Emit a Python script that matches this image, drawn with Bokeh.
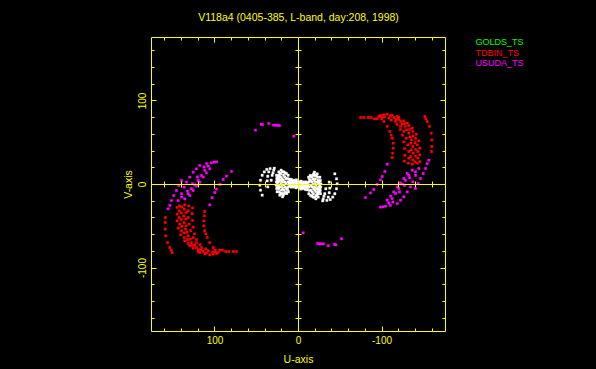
import math
from bokeh.plotting import figure
from bokeh.models import Range1d, LinearAxis, SingleIntervalTicker, ColumnDataSource
from bokeh.core.properties import value
from bokeh.embed import file_html
from bokeh.resources import INLINE

# ---------------- data ----------------
title_text = "V118a4 (0405-385, L-band, day:208, 1998)"
station_names = ["GOLDS_TS", "TDBIN_TS", "USUDA_TS"]
station_colors = ["#00ff00", "#ff0000", "#ff00ff"]
point_colors = ["#ffffff", "#ff0000", "#ff00ff"]
x_label = "U-axis"
y_label = "V-axis"
axis_limit = 176
tick_values = [100, 0, -100]
tick_labels = ["100", "0", "-100"]

# One half of each station's uv samples;
# the Hermitian conjugates (-u, -v) are added below.
golds_u = [38, 41, 43.5, 45.5, 46.3, 45.5, 43.5,
           34, 35.6, 36.8, 37.5, 36.8,
           29.6, 31.5, 32.7, 30.5, 29.0,
           26.3, 26.0, 26.5, 26.8, 26.1, 25.6,
           25.0, 25.2, 25.3, 24.9,
           23.6, 23.4, 23.9, 24.2, 24.0, 23.5, 22.9, 22.4,
           22.2, 22.6, 22.8, 22.0, 21.5,
           20.8, 21.2, 21.5, 21.3, 21.0, 20.6, 20.2, 19.8, 19.1,
           19.2, 19.6, 19.4, 18.8, 18.2,
           17.6, 17.9, 18.2, 18.0, 17.5, 17.0,
           16.0, 16.3, 16.5, 16.0, 15.5,
           14.4, 14.8, 15.1, 14.6, 14.0,
           12.4, 12.8, 12.6, 12.1, 13.2, 13.0,
           10.0, 8.0, 6.0, 4.0, 2.0, 10.0, 7.0, 4.0, 1.0, 9.0, 6.0, 3.0, 0.5, 11.0, 8.5, 5.5, 2.5,
           11.5, 9.0, 6.5, 3.5, 1.5, 10.5, 7.5, 5.0, 2.0]
golds_v = [18, 15, 11.1, 5.1, -0.8, -6.8, -12.8,
           19, 15.1, 9.9, 4.3, -2.9,
           17.1, 11.1, 5.1, 14.0, 19.5,
           11.1, 7.1, 3.2, -0.8, -4.8, -8.7,
           9.0, 5.0, 1.0, -3.0,
           15.1, 11.1, 7.1, 3.2, -0.8, -4.8, -8.7, -12.7,
           13.0, 9.0, 5.0, -2.8, -10.8,
           17.1, 13.1, 9.1, 5.1, 1.2, -2.8, -6.8, -10.8, -14.7,
           15.0, 7.0, 3.0, -4.8, -12.7,
           15.1, 11.1, 5.2, -0.8, -6.8, -10.8,
           14.0, 9.0, 3.0, -3.0, -9.0,
           13.1, 7.1, 1.2, -4.8, -10.8,
           11.1, 3.2, -2.8, -8.7, 7.0, -6.0,
           4.0, 5.0, 3.0, 4.0, 3.0, 0.0, 1.0, -1.0, 0.0, -3.0, -3.0, -4.0, -3.0, 6.5, 6.0, 5.0, 5.5,
           2.0, 2.0, 1.5, 1.5, 1.5, -2.0, -2.0, -1.5, -1.5]

tdbin_u = [-74.3, -78.2, -83.5, -87.1, -91.0, -94.2,
           -96.2, -99.5, -102.2, -106.2, -109.3, -111.0, -112.2, -113.4, -113.4, -112.6, -112.2,
           -100.0, -111.0, -118.0, -122.0, -124.5, -126.0, -127.0, -127.3, -126.8,
           -98.2, -103.0, -108.1, -116.2, -122.2, -126.1, -129.0, -130.9, -132.1, -132.1, -131.4,
           -102.2, -114.1, -122.2, -128.1, -132.1, -135.3, -136.9, -137.4, -136.9, -136.2,
           -110.0, -120.0, -127.0, -133.0, -137.0, -139.5, -140.3, -140.2, -139.5,
           -106.2, -112.0, -118.2, -126.1, -132.1, -136.9, -140.1, -142.2, -142.9, -142.9, -142.2,
           -120.1, -130.2, -136.2, -141.0, -144.1, -145.3, -145.3, -145.3,
           -117.0, -124.0, -129.5, -133.5, -134.6, -134.8, -134.3,
           -151.3, -152.5, -154.1, -156.9, -158.9, -159.6, -159.6, -159.3]
tdbin_v = [80.2, 80.2, 80.2, 80.2, 78.6, 78.6,
           81.4, 78.5, 75.4, 69.5, 63.5, 59.0, 55.4, 49.5, 43.5, 37.5, 32.3,
           80.5, 77.0, 72.0, 66.0, 59.0, 51.0, 43.0, 35.0, 28.0,
           82.6, 81.0, 79.4, 75.4, 69.5, 63.5, 55.4, 47.4, 39.5, 31.5, 25.5,
           83.4, 80.2, 75.4, 69.5, 61.4, 53.4, 45.5, 37.5, 29.5, 24.3,
           82.0, 78.0, 73.0, 66.0, 58.0, 50.0, 42.0, 34.0, 27.0,
           84.2, 83.0, 81.4, 76.2, 70.7, 63.5, 55.4, 47.4, 39.5, 31.5, 25.5,
           80.2, 73.4, 67.4, 60.2, 52.2, 43.5, 35.4, 27.5,
           78.0, 72.5, 65.5, 57.0, 49.5, 41.5, 33.5,
           81.4, 78.5, 75.4, 69.5, 61.4, 53.4, 45.5, 39.5]

usuda_u = [-156.1, -154.1, -152.1, -149.3, -146.1, -143.3, -140.1,
           -144.1, -140.1, -136.9, -134.1, -130.2, -126.1, -122.2, -118.2,
           -136.2, -132.1, -128.1, -124.2, -120.1, -116.2, -112.2, -108.1, -104.2,
           -130.2, -126.1, -122.2, -118.2, -114.1, -110.2, -106.2, -101.0,
           -140.0, -133.0, -127.0, -121.0, -113.0, -110.0, -98.0,
           -106.2, -103.4, -100.2, -98.2, -94.0, -90.2, -86.2, -80.2,
           44.7, 43.1, 35.6, 29.9, 27.5, 25.1, 22.8, 51.5, 5.6]
usuda_v = [29.1, 25.1, 19.2, 13.2, 7.2, 1.2, -4.8,
           19.2, 11.1, 3.1, -2.9, -8.9, -14.8, -18.8, -22.8,
           17.1, 11.1, 5.1, 0.4, -4.8, -10.8, -16.8, -22.0, -26.0,
           13.2, 7.2, 1.9, -2.9, -8.9, -14.0, -18.8, -26.8,
           15.0, 8.0, -1.0, -9.0, -21.0, -25.0, -27.0,
           24.3, 15.6, 9.6, 5.5, 0.0, -6.0, -10.1, -15.6,
           72.2, 71.6, 73.1, 71.0, 71.0, 71.0, 70.4, 65.0, 57.8]

station_u = [golds_u, tdbin_u, usuda_u]
station_v = [golds_v, tdbin_v, usuda_v]

YEL = "#ffff00"
FONT = "Liberation Sans"

# ---------------- layout (pixels) ----------------
W, H = 596, 369
BOX_L, BOX_T, BOX_SIZE = 151, 37, 294
B_L, B_R, B_T, B_B = 4, 4, 5, 4
upp = 2 * axis_limit / BOX_SIZE
CX = BOX_L + BOX_SIZE / 2
CY = BOX_T + BOX_SIZE / 2


def u_at(px):
    return (CX - px) * upp


def v_at(py):
    return (CY - py) * upp


def with_conjugates(us, vs):
    return list(us) + [-a for a in us], list(vs) + [-b for b in vs]


p = figure(width=W, height=H,
           x_range=Range1d(u_at(B_L), u_at(W - B_R)),
           y_range=Range1d(v_at(H - B_B), v_at(B_T)),
           output_backend="svg", toolbar_location=None,
           x_axis_location=None, y_axis_location=None,
           min_border_left=B_L, min_border_right=B_R,
           min_border_top=B_T, min_border_bottom=B_B,
           background_fill_color="black", border_fill_color="black",
           outline_line_color=None)
p.grid.grid_line_color = None
p.title.visible = False

box_bounds = (-axis_limit, axis_limit)


def make_axis(loc, maj_in, min_in):
    ax = LinearAxis(ticker=SingleIntervalTicker(interval=100, num_minor_ticks=5),
                    fixed_location=loc, bounds=box_bounds,
                    axis_line_color=YEL, major_tick_line_color=YEL, minor_tick_line_color=YEL,
                    major_tick_in=maj_in, minor_tick_in=min_in,
                    major_tick_out=0, minor_tick_out=0,
                    major_label_text_color=None, major_label_text_font_size="1px",
                    major_label_standoff=0)
    return ax


# box edges (ticks point into the box)
p.add_layout(make_axis(-axis_limit, 5, 3), "below")
p.add_layout(make_axis(axis_limit, 5, 3), "above")
p.add_layout(make_axis(axis_limit, 5, 3), "left")
p.add_layout(make_axis(-axis_limit, 5, 3), "right")
# axes through the origin (ticks on both sides)
p.add_layout(make_axis(0, 4, 3), "below")
p.add_layout(make_axis(0, 4, 3), "above")
p.add_layout(make_axis(0, 4, 3), "left")
p.add_layout(make_axis(0, 4, 3), "right")

for us, vs, col in zip(station_u, station_v, point_colors):
    uu, vv = with_conjugates(us, vs)
    p.scatter(uu, vv, marker="square", size=2.3, fill_color=col, line_color=col, line_width=0.4)

txt = dict(text_font=value(FONT), text_align="center", text_baseline="middle")

# tick labels
p.text(x=tick_values, y=[v_at(339.7)] * len(tick_values), text=tick_labels,
       text_color=YEL, text_font_size=value("10px"), **txt)
p.text(x=[u_at(141.7)] * len(tick_values), y=tick_values, text=tick_labels,
       text_color=YEL, text_font_size=value("10px"), angle=math.pi / 2, **txt)

# title and axis names
p.text(x=[0], y=[v_at(16.5)], text=[title_text], text_color=YEL,
       text_font_size=value("10.5px"), **txt)
p.text(x=[0], y=[v_at(358)], text=[x_label], text_color=YEL,
       text_font_size=value("10.5px"), **txt)
p.text(x=[u_at(127.7)], y=[0], text=[y_label], text_color=YEL,
       text_font_size=value("10.5px"), angle=math.pi / 2, **txt)

# legend
legend_src = ColumnDataSource(dict(x=[u_at(475)] * len(station_names),
                                   y=[v_at(41.7), v_at(52), v_at(62.7)],
                                   text=station_names, color=station_colors))
p.text(x="x", y="y", text="text", text_color="color", source=legend_src,
       text_font=value(FONT), text_font_size=value("9px"),
       text_align="left", text_baseline="middle")

html = file_html(p, INLINE, title="uv coverage")
html = html.replace("<head>", "<head><style>html, body { background: #000000; }</style>", 1)
open("out.html", "w").write(html)
